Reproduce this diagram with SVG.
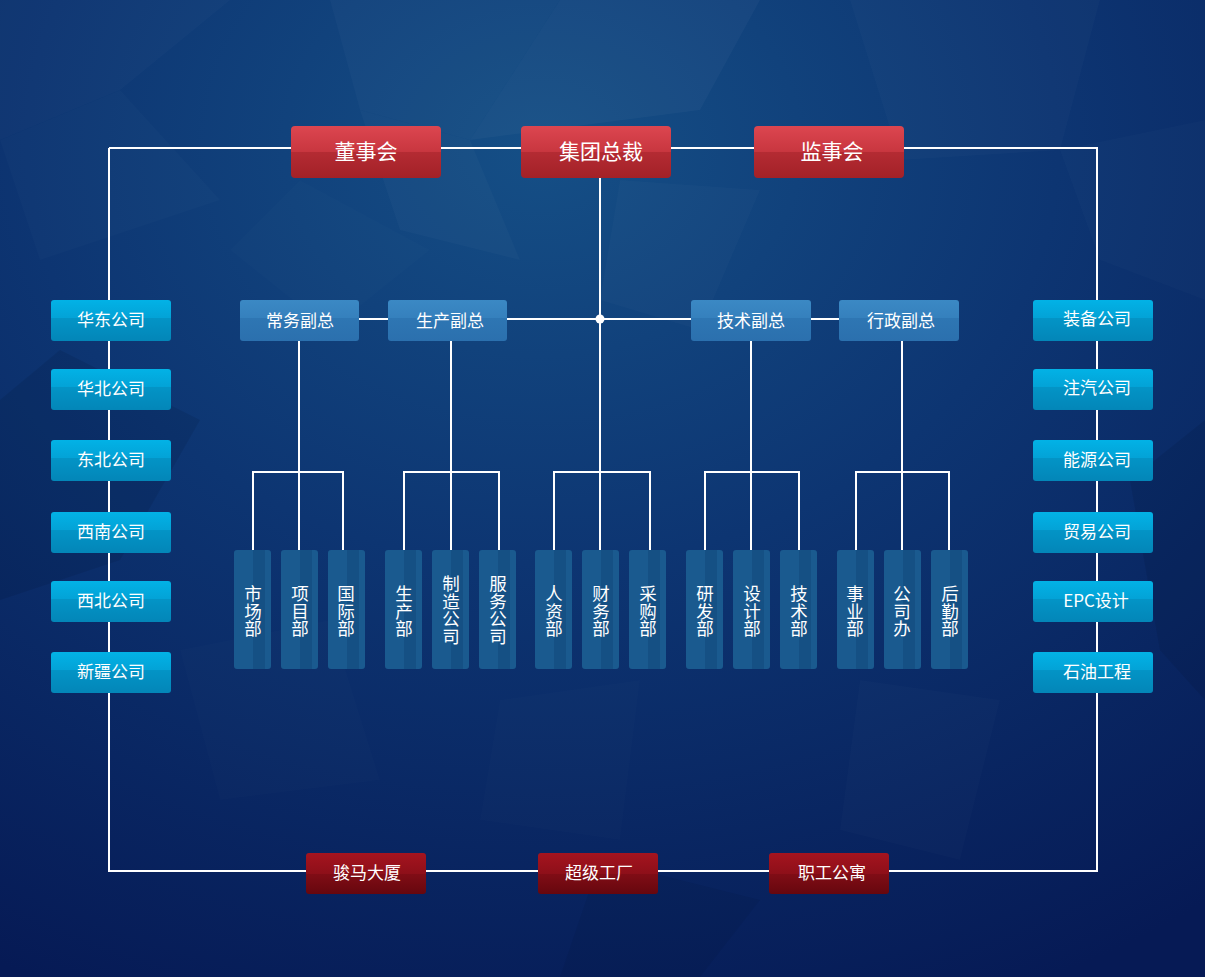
<svg xmlns="http://www.w3.org/2000/svg" width="1205" height="977" viewBox="0 0 1205 977">
<defs>
<radialGradient id="bg" cx="0.45" cy="0.15" r="0.95">
<stop offset="0" stop-color="#154f86"/>
<stop offset="0.45" stop-color="#0d3572"/>
<stop offset="1" stop-color="#061a55"/>
</radialGradient>
<linearGradient id="gRed" x1="0" y1="0" x2="0" y2="1">
<stop offset="0" stop-color="#dc4650"/>
<stop offset="0.5" stop-color="#c8363f"/>
<stop offset="0.5" stop-color="#b42b33"/>
<stop offset="1" stop-color="#a32127"/>
</linearGradient>
<linearGradient id="gDark" x1="0" y1="0" x2="0" y2="1">
<stop offset="0" stop-color="#a5141f"/>
<stop offset="0.5" stop-color="#8e0f19"/>
<stop offset="0.5" stop-color="#810d16"/>
<stop offset="1" stop-color="#66070e"/>
</linearGradient>
<linearGradient id="gCyan" x1="0" y1="0" x2="0" y2="1">
<stop offset="0" stop-color="#02b2e6"/>
<stop offset="0.45" stop-color="#03a2d6"/>
<stop offset="0.45" stop-color="#0394c6"/>
<stop offset="1" stop-color="#0386b8"/>
</linearGradient>
<linearGradient id="gVice" x1="0" y1="0" x2="0" y2="1">
<stop offset="0" stop-color="#3b89c4"/>
<stop offset="0.45" stop-color="#3580bd"/>
<stop offset="0.45" stop-color="#2e76b3"/>
<stop offset="1" stop-color="#2b70ae"/>
</linearGradient>
<style>
.ln{stroke:#ffffff;stroke-width:2;fill:none}
.t{font-family:"Noto Sans CJK SC","Noto Sans",sans-serif;fill:#ffffff;text-anchor:middle}
.big{font-size:21px}
.mid{font-size:17px}
.vt{font-size:17.5px;writing-mode:vertical-rl;text-orientation:upright}
.red{fill:url(#gRed)}
.dark{fill:url(#gDark)}
.cyan{fill:url(#gCyan)}
.vice{fill:url(#gVice)}
.dep{fill:#1a5a8f}
.strip{fill:#0f3f70;opacity:0.35}
.poly{fill:#ffffff}
</style>
</defs>

<rect x="0" y="0" width="1205" height="977" fill="url(#bg)"/>
<g id="background-texture">
<polygon class="poly" opacity="0.025" points="330,0 560,0 470,140 360,110"/>
<polygon class="poly" opacity="0.03" points="560,0 760,0 700,110 470,140"/>
<polygon class="poly" opacity="0.02" points="0,0 230,0 120,90 0,140"/>
<polygon class="poly" opacity="0.02" points="850,0 1100,0 1060,150 900,160"/>
<polygon class="poly" opacity="0.025" points="360,110 470,140 520,260 400,230"/>
<polygon class="poly" opacity="0.02" points="620,180 760,190 700,330 600,300"/>
<polygon class="poly" opacity="0.015" points="0,140 120,90 220,200 40,260"/>
<polygon class="poly" opacity="0.015" points="1060,150 1205,120 1205,300 1100,260"/>
<polygon class="poly" opacity="0.012" points="180,650 330,620 380,780 220,800"/>
<polygon class="poly" opacity="0.012" points="500,700 640,680 620,840 480,820"/>
<polygon class="poly" opacity="0.015" points="860,680 1000,700 960,860 840,830"/>
<polygon class="poly" opacity="0.012" points="300,180 430,250 330,330 230,250"/>
<polygon fill="#000820" opacity="0.1" points="0,400 60,350 200,420 120,560 0,600"/>
<polygon fill="#000820" opacity="0.1" points="1205,420 1130,480 1160,650 1205,700"/>
<polygon fill="#000820" opacity="0.08" points="600,860 760,900 700,977 560,977"/>
</g>

<g id="connectors">
<polyline class="ln" points="109,148 109,871 1097,871 1097,148 109,148"/>
<line class="ln" x1="600" y1="178" x2="600" y2="472"/>
<line class="ln" x1="300" y1="319" x2="900" y2="319"/>
<circle cx="600" cy="319" r="4.5" fill="#ffffff"/>
<line class="ln" x1="299" y1="341" x2="299" y2="550"/>
<line class="ln" x1="451" y1="341" x2="451" y2="550"/>
<line class="ln" x1="751" y1="341" x2="751" y2="550"/>
<line class="ln" x1="902" y1="341" x2="902" y2="550"/>
<polyline class="ln" points="253,550 253,472 343,472 343,550"/>
<polyline class="ln" points="404,550 404,472 499,472 499,550"/>
<polyline class="ln" points="554,550 554,472 650,472 650,550"/>
<line class="ln" x1="600" y1="472" x2="600" y2="550"/>
<polyline class="ln" points="705,550 705,472 799,472 799,550"/>
<polyline class="ln" points="856,550 856,472 949,472 949,550"/>
</g>

<g id="n-dongshihui"><rect class="red" x="291" y="126" width="150" height="52" rx="4"/><text class="t big" x="366" y="159">董事会</text></g>
<g id="n-zongcai"><rect class="red" x="521" y="126" width="150" height="52" rx="4"/><text class="t big" x="601" y="159">集团总裁</text></g>
<g id="n-jianshihui"><rect class="red" x="754" y="126" width="150" height="52" rx="4"/><text class="t big" x="832" y="159">监事会</text></g>

<g id="n-changwu"><rect class="vice" x="240" y="300" width="119" height="41" rx="3"/><text class="t mid" x="300" y="327">常务副总</text></g>
<g id="n-shengchan"><rect class="vice" x="388" y="300" width="119" height="41" rx="3"/><text class="t mid" x="450" y="327">生产副总</text></g>
<g id="n-jishu"><rect class="vice" x="691" y="300" width="120" height="41" rx="3"/><text class="t mid" x="751" y="327">技术副总</text></g>
<g id="n-xingzheng"><rect class="vice" x="839" y="300" width="120" height="41" rx="3"/><text class="t mid" x="901" y="327">行政副总</text></g>

<g id="n-huadong"><rect class="cyan" x="51" y="300" width="120" height="41" rx="3"/><text class="t mid" x="111" y="326">华东公司</text></g>
<g id="n-huabei"><rect class="cyan" x="51" y="369" width="120" height="41" rx="3"/><text class="t mid" x="111" y="395">华北公司</text></g>
<g id="n-dongbei"><rect class="cyan" x="51" y="440" width="120" height="41" rx="3"/><text class="t mid" x="111" y="466">东北公司</text></g>
<g id="n-xinan"><rect class="cyan" x="51" y="512" width="120" height="41" rx="3"/><text class="t mid" x="111" y="538">西南公司</text></g>
<g id="n-xibei"><rect class="cyan" x="51" y="581" width="120" height="41" rx="3"/><text class="t mid" x="111" y="607">西北公司</text></g>
<g id="n-xinjiang"><rect class="cyan" x="51" y="652" width="120" height="41" rx="3"/><text class="t mid" x="111" y="678">新疆公司</text></g>

<g id="n-zhuangbei"><rect class="cyan" x="1033" y="300" width="120" height="41" rx="3"/><text class="t mid" x="1097" y="325">装备公司</text></g>
<g id="n-zhuqi"><rect class="cyan" x="1033" y="369" width="120" height="41" rx="3"/><text class="t mid" x="1097" y="394">注汽公司</text></g>
<g id="n-nengyuan"><rect class="cyan" x="1033" y="440" width="120" height="41" rx="3"/><text class="t mid" x="1097" y="466">能源公司</text></g>
<g id="n-maoyi"><rect class="cyan" x="1033" y="512" width="120" height="41" rx="3"/><text class="t mid" x="1097" y="538">贸易公司</text></g>
<g id="n-epc"><rect class="cyan" x="1033" y="581" width="120" height="41" rx="3"/><text class="t mid" x="1096" y="607">EPC设计</text></g>
<g id="n-shiyou"><rect class="cyan" x="1033" y="652" width="120" height="41" rx="3"/><text class="t mid" x="1097" y="678">石油工程</text></g>

<g id="n-shichang"><rect class="dep" x="234" y="550" width="37" height="119" rx="3"/><rect class="strip" x="253" y="550" width="12" height="119"/><text class="t vt" x="253" y="611">市场部</text></g>
<g id="n-xiangmu"><rect class="dep" x="281" y="550" width="37" height="119" rx="3"/><rect class="strip" x="300" y="550" width="12" height="119"/><text class="t vt" x="300" y="611">项目部</text></g>
<g id="n-guoji"><rect class="dep" x="328" y="550" width="37" height="119" rx="3"/><rect class="strip" x="347" y="550" width="12" height="119"/><text class="t vt" x="346" y="611">国际部</text></g>

<g id="n-shengchanbu"><rect class="dep" x="385" y="550" width="37" height="119" rx="3"/><rect class="strip" x="404" y="550" width="12" height="119"/><text class="t vt" x="404" y="611">生产部</text></g>
<g id="n-zhizao"><rect class="dep" x="432" y="550" width="37" height="119" rx="3"/><rect class="strip" x="451" y="550" width="12" height="119"/><text class="t vt" x="451" y="610">制造公司</text></g>
<g id="n-fuwu"><rect class="dep" x="479" y="550" width="37" height="119" rx="3"/><rect class="strip" x="498" y="550" width="12" height="119"/><text class="t vt" x="498" y="610">服务公司</text></g>

<g id="n-renzi"><rect class="dep" x="535" y="550" width="37" height="119" rx="3"/><rect class="strip" x="554" y="550" width="12" height="119"/><text class="t vt" x="554" y="611">人资部</text></g>
<g id="n-caiwu"><rect class="dep" x="582" y="550" width="37" height="119" rx="3"/><rect class="strip" x="601" y="550" width="12" height="119"/><text class="t vt" x="601" y="611">财务部</text></g>
<g id="n-caigou"><rect class="dep" x="629" y="550" width="37" height="119" rx="3"/><rect class="strip" x="648" y="550" width="12" height="119"/><text class="t vt" x="648" y="611">采购部</text></g>

<g id="n-yanfa"><rect class="dep" x="686" y="550" width="37" height="119" rx="3"/><rect class="strip" x="705" y="550" width="12" height="119"/><text class="t vt" x="705" y="611">研发部</text></g>
<g id="n-sheji"><rect class="dep" x="733" y="550" width="37" height="119" rx="3"/><rect class="strip" x="752" y="550" width="12" height="119"/><text class="t vt" x="752" y="611">设计部</text></g>
<g id="n-jishubu"><rect class="dep" x="780" y="550" width="37" height="119" rx="3"/><rect class="strip" x="799" y="550" width="12" height="119"/><text class="t vt" x="799" y="611">技术部</text></g>

<g id="n-shiye"><rect class="dep" x="837" y="550" width="37" height="119" rx="3"/><rect class="strip" x="856" y="550" width="12" height="119"/><text class="t vt" x="855" y="611">事业部</text></g>
<g id="n-gongsiban"><rect class="dep" x="884" y="550" width="37" height="119" rx="3"/><rect class="strip" x="903" y="550" width="12" height="119"/><text class="t vt" x="902" y="611">公司办</text></g>
<g id="n-houqin"><rect class="dep" x="931" y="550" width="37" height="119" rx="3"/><rect class="strip" x="950" y="550" width="12" height="119"/><text class="t vt" x="950" y="611">后勤部</text></g>

<g id="n-junma"><rect class="dark" x="306" y="853" width="120" height="41" rx="3"/><text class="t mid" x="367" y="879">骏马大厦</text></g>
<g id="n-chaoji"><rect class="dark" x="538" y="853" width="120" height="41" rx="3"/><text class="t mid" x="599" y="879">超级工厂</text></g>
<g id="n-zhigong"><rect class="dark" x="769" y="853" width="120" height="41" rx="3"/><text class="t mid" x="832" y="879">职工公寓</text></g>
</svg>
